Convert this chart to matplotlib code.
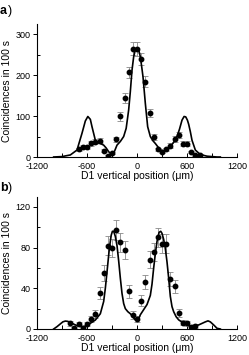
import matplotlib
matplotlib.use("Agg")
import matplotlib.pyplot as plt
from matplotlib.ticker import MultipleLocator

plt.rcParams['font.family'] = ['Liberation Sans', 'DejaVu Sans']

# ---- panel a data ----
a_x = [-700, -650, -600, -550, -500, -450, -400, -350, -300, -250, -200, -150, -100, -50, 0,
       50, 100, 150, 200, 250, 300, 350, 400, 450, 500, 550, 600, 650, 700, 750]
a_y = [19, 25, 24, 34, 37, 40, 15, 3, 10, 43, 99, 144, 207, 265, 264,
       239, 184, 107, 48, 19, 13, 19, 28, 44, 53, 32, 32, 12, 5, 6]
a_err = [4, 5, 5, 6, 6, 6, 4, 2, 3, 7, 10, 12, 14, 16, 16,
         15, 14, 10, 7, 4, 4, 4, 5, 7, 7, 6, 6, 3, 2, 2]
a_curve_x = [-1000, -900, -800, -720, -660, -620, -590, -560, -540, -500, -470, -440, -400,
             -370, -340, -300, -270, -240, -200, -160, -130, -100, -80, -60, -40, -20, 0,
             20, 40, 60, 72, 100, 128, 160, 190, 220, 250, 280, 320, 360, 400, 440, 480,
             510, 540, 565, 585, 605, 620, 640, 660, 700, 760, 840, 960, 1000]
a_curve_y = [0, 1, 5, 17, 58, 88, 99, 92, 74, 41, 35, 33, 29,
             22, 13, 5, 14, 29, 38, 50, 70, 115, 160, 212, 245, 262, 266,
             262, 245, 215, 196, 131, 74, 50, 40, 33, 25, 17, 15, 18, 25, 36, 50,
             68, 90, 99, 98, 90, 80, 62, 41, 17, 6, 2, 0, 0]

# ---- panel b data ----
b_x = [-800, -750, -700, -650, -600, -550, -500, -450, -400, -350, -300, -250, -200, -150, -100,
       -50, 0, 50, 100, 150, 200, 250, 300, 350, 400, 450, 500, 550, 600, 650, 700]
b_y = [5.6, 1.3, 4.6, 1, 5, 9.5, 15, 35, 55, 82, 80, 97, 85, 78, 37,
       14, 10, 28, 46, 68, 76, 90, 84, 84, 49, 42, 16, 6, 5.6, 1.6, 3]
b_err = [2.4, 1.1, 2.1, 1, 2.2, 3.1, 3.9, 5.9, 7.4, 9.1, 8.9, 9.8, 9.2, 8.8, 6.1,
         3.7, 3.2, 5.3, 6.8, 8.2, 8.7, 9.5, 9.2, 9.2, 7, 6.5, 4, 2.4, 2.4, 1.3, 1.7]
b_curve_x = [-1000, -960, -920, -890, -860, -830, -800, -760, -720, -680, -640, -600, -560,
             -500, -440, -400, -380, -360, -332, -310, -295, -280, -260, -240, -220, -200,
             -180, -160, -140, -110, -80, -50, -20, 0, 20, 40, 80, 120, 160, 180, 200, 220,
             240, 265, 285, 300, 320, 340, 360, 380, 400, 420, 440, 470, 500, 560, 640,
             700, 740, 780, 820, 852, 880, 920, 960, 1000]
b_curve_y = [0, 2.3, 5, 7, 7.8, 7.5, 6.5, 4.8, 3.3, 2.6, 2.3, 3.5, 5.6,
             8.8, 15, 27, 40, 56, 79, 92, 96, 96, 91, 82, 67, 50,
             35, 25, 20, 17, 15, 12, 9, 8, 10, 14, 19, 24, 33, 44, 60, 74,
             86, 95, 96, 94, 88, 79, 66, 50, 32, 22, 17, 12, 9, 5.6, 3,
             3, 4, 5.5, 7, 8, 7, 4, 0.7, 0]

a_yticks = [0, 100, 200, 300]
b_yticks = [0, 40, 80, 120]
x_ticks = [-1200, -600, 0, 600, 1200]

fig = plt.figure(figsize=(2.49, 3.55), dpi=100)

axa = fig.add_axes([37/249, 1-157/355, 200/249, 133/355])
axb = fig.add_axes([37/249, 1-329/355, 200/249, 132.3/355])

def style(ax, xs, ys, errs, cx, cy, yticks, ymax, yminor):
    ax.plot(cx, cy, color='black', lw=1.2, zorder=3)
    ax.errorbar(xs, ys, yerr=errs, fmt='none', ecolor='#888888', elinewidth=0.6,
                capsize=2.0, capthick=0.6, zorder=2)
    ax.plot(xs, ys, 'o', color='black', ms=3.2, zorder=4)
    ax.set_xlim(-1200, 1200)
    ax.set_ylim(0, ymax)
    ax.set_xticks(x_ticks)
    ax.set_xticklabels([str(t) for t in x_ticks])
    ax.set_yticks(yticks)
    ax.xaxis.set_minor_locator(MultipleLocator(300))
    ax.yaxis.set_minor_locator(MultipleLocator(yminor))
    for s in ['top', 'right']:
        ax.spines[s].set_visible(False)
    for s in ['left', 'bottom']:
        ax.spines[s].set_linewidth(0.8)
    ax.tick_params(axis='x', which='both', direction='in', length=3, width=0.7,
                   labelsize=6.5, pad=3.5)
    ax.tick_params(axis='y', which='major', direction='out', length=3, width=0.7,
                   labelsize=6.5, pad=1.5)
    ax.tick_params(axis='y', which='minor', direction='in', length=2.5, width=0.7)
    ax.set_xlabel('D1 vertical position (\u03bcm)', fontsize=7.5, labelpad=0.0)
    ax.set_ylabel('Coincidences in 100 s', fontsize=7.5, labelpad=3)

style(axa, a_x, a_y, a_err, a_curve_x, a_curve_y, a_yticks, 325, 50)
style(axb, b_x, b_y, b_err, b_curve_x, b_curve_y, b_yticks, 130, 20)

fig.text(0.0, 1-11/355, 'a', fontsize=9, fontweight='bold', va='center', ha='left')
fig.text(8/249, 1-11/355, ')', fontsize=9, va='center', ha='left')
fig.text(0.0, 1-188/355, 'b', fontsize=9, fontweight='bold', va='center', ha='left')
fig.text(8/249, 1-188/355, ')', fontsize=9, va='center', ha='left')

fig.savefig('out.png', dpi=100)
